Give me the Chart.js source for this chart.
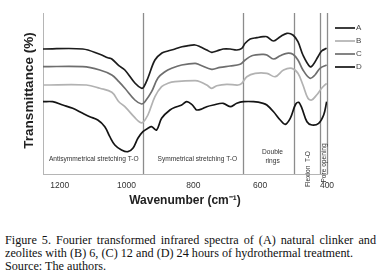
<!DOCTYPE html>
<html>
<head>
<meta charset="utf-8">
<script src="https://cdn.jsdelivr.net/npm/chart.js@4.4.1/dist/chart.umd.min.js"></script>
<style>
html,body{margin:0;padding:0;background:#fff;width:381px;height:280px;overflow:hidden;}
#wrap{position:absolute;left:0;top:0;width:381px;height:215px;}
#cap{position:absolute;left:5px;top:234px;width:371px;font-family:"Liberation Serif","Times New Roman",serif;font-size:12.2px;line-height:13.2px;color:#111;white-space:nowrap;}
#cap .l1{text-align:justify;text-align-last:justify;white-space:normal;}
</style>
</head>
<body>
<div id="wrap"><canvas id="c" width="381" height="215"></canvas></div>
<div id="cap">
<div class="l1">Figure 5. Fourier transformed infrared spectra of (A) natural clinker and</div>
<div>zeolites with (B) 6, (C) 12 and (D) 24 hours of hydrothermal treatment.</div>
<div>Source: The authors.</div>
</div>
<script>
// Data (wavenumber in cm-1, transmittance in arbitrary units)
const seriesNames = ['A', 'B', 'C', 'D'];
const wnA = [1250,1131,1080,1056,1044,1023,1005,975,955,948,936,915,894,876,855,834,816,795,780,760,745,730,711,690,670,655,645,630,610,591,580,560,540,520,502,487,472,451,442,427,416,401];
const tA  = [125,125,119.7,116.3,115,108.3,104,91,85.7,87.3,96,114,121,123,125,127.3,128.3,129,127.3,124,121.7,123,125,125,124,125.7,130.7,135,136.3,137.3,137.3,133,137.3,140.7,139,132.3,119,107.3,109,117.3,123,125.7];
const wnB = [1250,1120,1080,1044,1023,1005,975,960,951,936,915,895,876,855,795,780,760,745,730,700,666,655,640,615,580,555,530,505,487,472,457,446,431,416,401];
const tB  = [89,89,85.7,81.7,72.3,67.3,56.3,51.7,51.7,59,77.3,87.3,90.7,92.3,93.3,92.3,89,85.7,88.3,89.7,89,90.7,97.3,100.7,100.7,97.3,104,105.7,100.7,89,75.7,74,79,85.7,90.7];
const wnC = [1250,1131,1080,1044,1023,1005,975,955,945,925,906,885,865,835,795,780,745,720,690,660,645,625,591,580,560,540,520,502,487,472,451,436,421,401];
const tC  = [107.3,107.3,104,99,92.3,85.7,74,70,72.3,82.3,96,102.3,105.7,109,110.7,109,104.7,106.7,108,109.7,114,118.3,119.7,119,115,118.3,120.7,119.7,114,104,95.7,99,105.7,109];
const wnD = [1250,1221,1191,1161,1131,1110,1086,1065,1050,1035,1015,996,981,966,951,936,925,910,895,870,850,835,820,805,795,790,775,760,740,711,690,670,650,620,591,580,560,540,525,510,495,485,475,460,445,425,410,401];
const tD  = [72.3,72.3,69,65.7,60.7,57.3,54,47.3,37.3,29,24,22.3,25.7,35.7,42.3,45.7,47.3,44,55.7,64,67.3,69,72.3,69.7,65.7,64,65,67.3,69,70.7,67.3,70.7,72.3,72.3,70.7,69,62.3,54,49.7,55.7,69,71.7,65.7,52.3,49,50.7,59,72.3];
const xTickValues = [1200, 1000, 800, 600, 400];
const bandLines = [952, 651, 500, 420, 400];
const bandLabels = [
  {text: ['Antisymmetrical stretching T-O'], wn: 1098, v: 15, rot: false},
  {text: ['Symmetrical stretching T-O'], wn: 788, v: 15, rot: false},
  {text: ['Double', 'rings'], wn: 563, v: 17.5, rot: false},
  {text: ['Flexion  T-O'], wn: 455, v: 5, rot: true},
  {text: ['Pore opening'], wn: 408, v: 11, rot: true}
];
const yTitle = 'Transmittance (%)';

const colors = {A: '#1c1c1c', B: '#b2b2b2', C: '#6e6e6e', D: '#141414'};
const toPts = (xs, ys) => xs.map((x, i) => ({x: x, y: ys[i]}));
const raw = {A: [wnA, tA], B: [wnB, tB], C: [wnC, tC], D: [wnD, tD]};

const datasets = seriesNames.map(n => ({
  label: n,
  data: toPts(raw[n][0], raw[n][1]),
  borderColor: colors[n],
  borderWidth: 1.7,
  pointRadius: 0,
  tension: 0.35,
  fill: false
}));

const bandPlugin = {
  id: 'bands',
  beforeDatasetsDraw(chart) {
    const {ctx, chartArea: a, scales: {x}} = chart;
    ctx.save();
    ctx.strokeStyle = '#8c8c8c';
    ctx.lineWidth = 1.3;
    bandLines.forEach(w => {
      const px = Math.round(x.getPixelForValue(w)) + 0.5;
      ctx.beginPath();
      ctx.moveTo(px, a.top);
      ctx.lineTo(px, a.bottom);
      ctx.stroke();
    });
    ctx.restore();
  },
  afterDatasetsDraw(chart) {
    const {ctx, chartArea: a, scales: {x, y}} = chart;
    ctx.save();
    ctx.fillStyle = '#333';
    ctx.font = '6.6px "Liberation Sans", Arial, sans-serif';
    ctx.textAlign = 'center';
    ctx.textBaseline = 'middle';
    bandLabels.forEach(b => {
      const px = x.getPixelForValue(b.wn);
      const py = y.getPixelForValue(b.v);
      ctx.save();
      ctx.translate(px, py);
      if (b.rot) ctx.rotate(-Math.PI / 2);
      b.text.forEach((t, i) => {
        ctx.fillText(t, 0, (i - (b.text.length - 1) / 2) * 9);
      });
      ctx.restore();
    });
    // y axis title
    ctx.save();
    ctx.fillStyle = '#222';
    ctx.font = 'bold 13.5px "Liberation Sans", Arial, sans-serif';
    ctx.translate(29, (a.top + a.bottom) / 2 - 3);
    ctx.rotate(-Math.PI / 2);
    ctx.fillText(yTitle, 0, 0);
    ctx.restore();
    // legend
    ctx.font = '8px "Liberation Sans", Arial, sans-serif';
    ctx.textAlign = 'left';
    seriesNames.forEach((n, i) => {
      const ly = a.top + 15 + i * 13;
      ctx.strokeStyle = colors[n];
      ctx.lineWidth = 1.7;
      ctx.beginPath();
      ctx.moveTo(a.right + 8, ly);
      ctx.lineTo(a.right + 28, ly);
      ctx.stroke();
      ctx.fillStyle = '#444';
      ctx.fillText(n, a.right + 29, ly);
    });
    ctx.restore();
  }
};

new Chart(document.getElementById('c'), {
  type: 'line',
  data: {datasets: datasets},
  options: {
    responsive: false,
    animation: false,
    layout: {padding: {left: 0, top: 13, right: 54, bottom: 0}},
    plugins: {legend: {display: false}, tooltip: {enabled: false}},
    scales: {
      x: {
        type: 'linear',
        reverse: true,
        min: 400,
        max: 1250,
        afterBuildTicks: s => { s.ticks = xTickValues.map(v => ({value: v})); },
        afterFit: s => { s.height = 41; },
        grid: {display: false, drawTicks: false},
        border: {display: true, color: '#b5b5b5', width: 1},
        ticks: {color: '#333', padding: 7, font: {family: '"Liberation Sans", Arial, sans-serif', size: 8.5}, maxRotation: 0, autoSkip: false, callback: v => String(v)},
        title: {display: true, text: 'Wavenumber (cm\u207B\u00B9)', color: '#222', padding: {top: 0, bottom: 7}, font: {family: '"Liberation Sans", Arial, sans-serif', size: 12, weight: 'bold'}}
      },
      y: {
        min: 0,
        max: 161,
        afterFit: s => { s.width = 43; },
        grid: {display: false, drawTicks: false},
        border: {display: true, color: '#b5b5b5', width: 1},
        ticks: {display: false},
        title: {display: false}
      }
    }
  },
  plugins: [bandPlugin]
});
</script>
</body>
</html>
